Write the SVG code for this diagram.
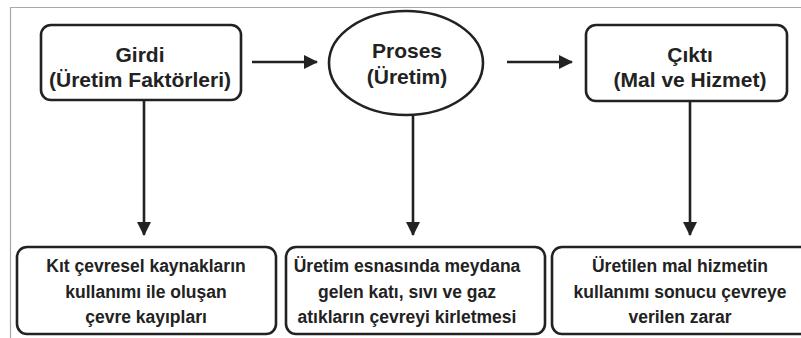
<svg xmlns="http://www.w3.org/2000/svg" width="801" height="338" viewBox="0 0 801 338">
  <style>
    .frame { fill: none; stroke: #a8a8a8; stroke-width: 1.2; }
    .box { fill: #ffffff; stroke: #222222; stroke-width: 2.6; }
    .edge { fill: none; stroke: #222222; stroke-width: 2.6; }
    .title { font-family: "Liberation Sans", Arial, sans-serif; font-weight: bold; font-size: 21px; fill: #222222; text-anchor: middle; }
    .note { font-family: "Liberation Sans", Arial, sans-serif; font-weight: bold; font-size: 17.5px; fill: #222222; text-anchor: middle; }
  </style>
  <defs>
    <marker id="arrow" viewBox="0 0 14 14" refX="13" refY="7" markerWidth="14" markerHeight="14" markerUnits="userSpaceOnUse" orient="auto">
      <path d="M0,0 L14,7 L0,14 Z" fill="#222222"/>
    </marker>
  </defs>

  <rect width="801" height="338" fill="#ffffff"/>
  <!-- outer frame: top and left rules -->
  <path class="frame" d="M10.5,338 V7.5 H801"/>

  <g id="connectors">
    <path class="edge" d="M252,62 H317" marker-end="url(#arrow)"/>
    <path class="edge" d="M507,62 H572" marker-end="url(#arrow)"/>
    <path class="edge" d="M144,100 V235" marker-end="url(#arrow)"/>
    <path class="edge" d="M413,115 V235" marker-end="url(#arrow)"/>
    <path class="edge" d="M690,101 V235" marker-end="url(#arrow)"/>
  </g>

  <g id="girdi">
    <rect class="box" x="41" y="25" width="200" height="75" rx="10"/>
    <text class="title" x="140" y="62">Girdi</text>
    <text class="title" x="140" y="87">(Üretim Faktörleri)</text>
  </g>

  <g id="proses">
    <ellipse class="box" cx="406" cy="63" rx="77" ry="52"/>
    <text class="title" x="407" y="58">Proses</text>
    <text class="title" x="407" y="84">(Üretim)</text>
  </g>

  <g id="cikti">
    <rect class="box" x="586" y="25" width="201" height="76" rx="10"/>
    <text class="title" x="690" y="62">Çıktı</text>
    <text class="title" x="690" y="87">(Mal ve Hizmet)</text>
  </g>

  <g id="kayiplar">
    <rect class="box" x="17" y="247" width="259" height="87" rx="10"/>
    <text class="note" x="146" y="272">Kıt çevresel kaynakların</text>
    <text class="note" x="146" y="298">kullanımı ile oluşan</text>
    <text class="note" x="146" y="323">çevre kayıpları</text>
  </g>

  <g id="kirlenme">
    <rect class="box" x="286" y="247" width="259" height="87" rx="10"/>
    <text class="note" x="407" y="272">Üretim esnasında meydana</text>
    <text class="note" x="407" y="298">gelen katı, sıvı ve gaz</text>
    <text class="note" x="407" y="323">atıkların çevreyi kirletmesi</text>
  </g>

  <g id="zarar">
    <rect class="box" x="552" y="247" width="262" height="87" rx="10"/>
    <text class="note" x="680" y="272">Üretilen mal hizmetin</text>
    <text class="note" x="680" y="298">kullanımı sonucu çevreye</text>
    <text class="note" x="680" y="323">verilen zarar</text>
  </g>
</svg>
